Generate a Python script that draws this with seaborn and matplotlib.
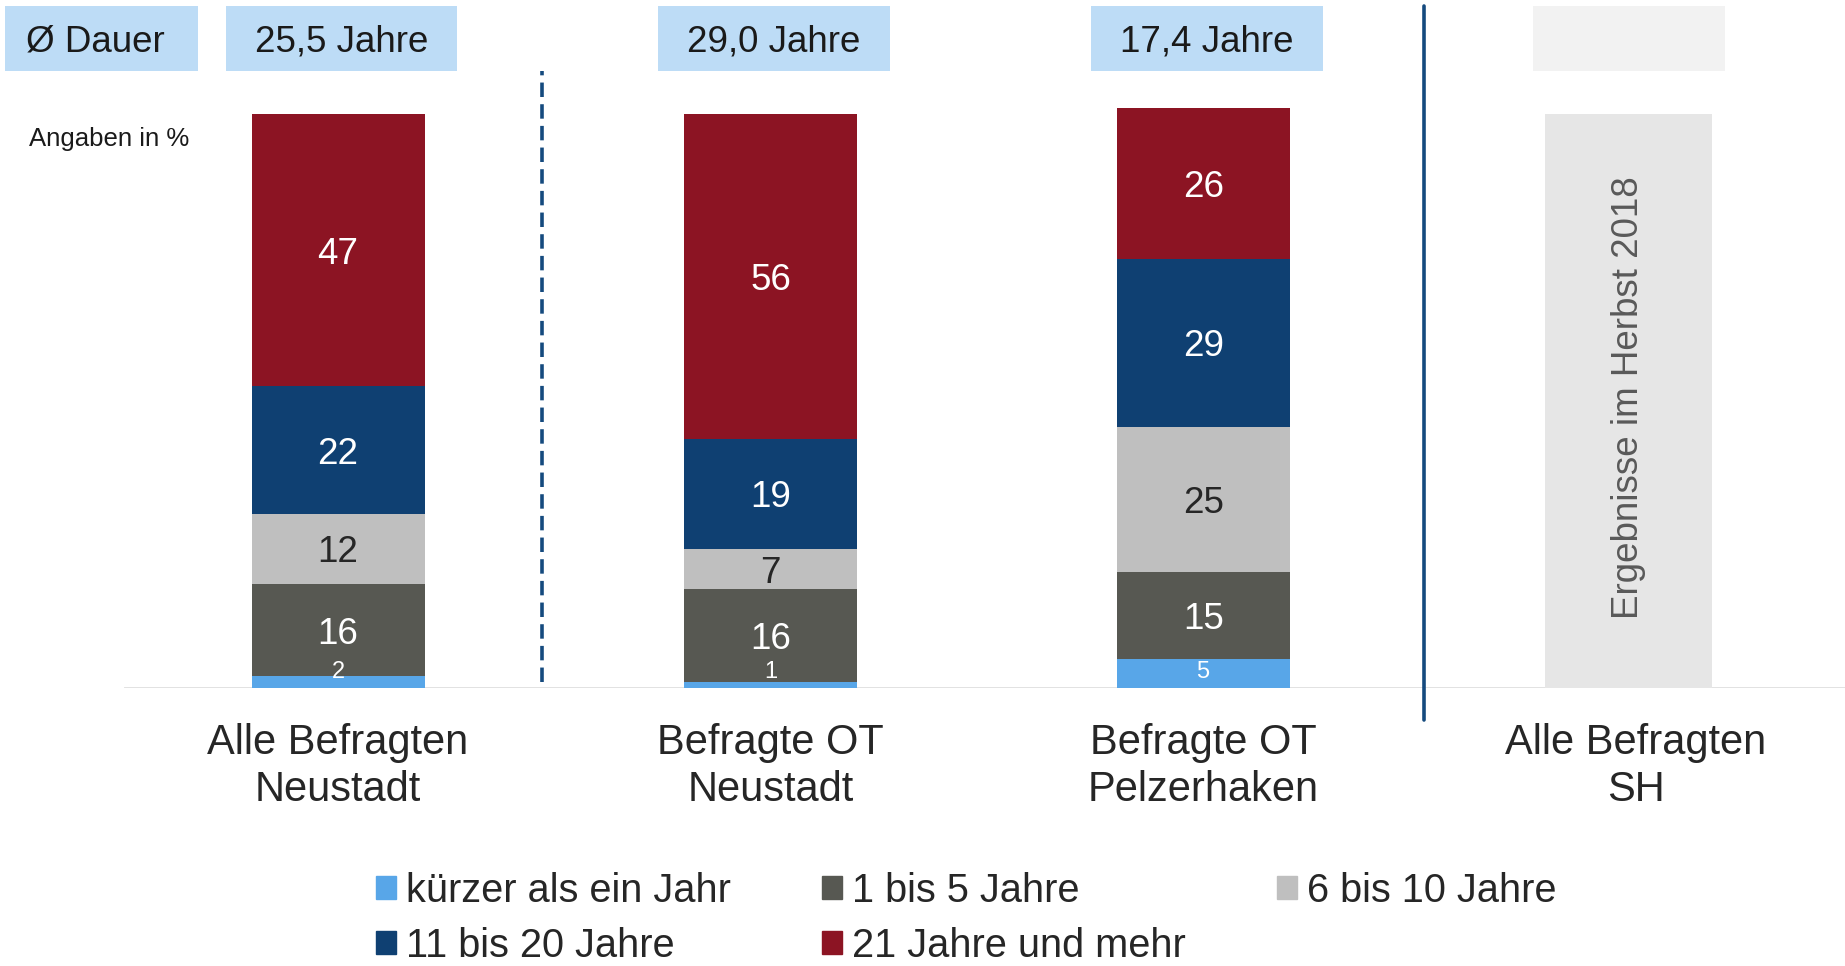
import seaborn as sns
import matplotlib.pyplot as plt
from matplotlib.patches import Rectangle, Patch
import numpy as np

# Daten
categories = ["Alle Befragten\nNeustadt", "Befragte OT\nNeustadt",
              "Befragte OT\nPelzerhaken", "Alle Befragten\nSH"]
series = ["kürzer als ein Jahr", "1 bis 5 Jahre", "6 bis 10 Jahre",
          "11 bis 20 Jahre", "21 Jahre und mehr"]
kuerzer = [2, 1, 5]
jahre_1_5 = [16, 16, 15]
jahre_6_10 = [12, 7, 25]
jahre_11_20 = [22, 19, 29]
jahre_21 = [47, 56, 26]
dauer = ["25,5 Jahre", "29,0 Jahre", "17,4 Jahre"]
placeholder_text = "Ergebnisse im Herbst 2018"

colors = ["#58a6e8", "#575852", "#bfbfbf", "#0f4072", "#8c1423"]
label_colors = ["white", "white", "#262626", "white", "white"]

sns.set_style("white")
plt.rcParams['font.family'] = ['Liberation Sans', 'DejaVu Sans']

fig = plt.figure(figsize=(18.45, 9.66), dpi=100)
ax = fig.add_axes([0.0672, 0.2878, 0.9328, 0.7122])

values = np.array([kuerzer, jahre_1_5, jahre_6_10, jahre_11_20, jahre_21])
cum = values.cumsum(axis=0)

# gestapelte Balken: kumulierte Summen von oben nach unten ueberzeichnen
for i in range(len(series) - 1, -1, -1):
    sns.barplot(x=categories[:3], y=cum[i], order=categories, color=colors[i],
                saturation=1, width=0.4, linewidth=0, ax=ax)

# Platzhalter SH (leicht nach links versetzt wie im Original)
shift = -0.016
n_before = len(ax.patches)
sns.barplot(x=[categories[3]], y=[99], order=categories, color="#e6e6e6",
            saturation=1, width=0.386, linewidth=0, ax=ax)
for p in ax.patches[n_before:]:
    p.set_x(p.get_x() + shift)
ax.text(3 + shift, 50, placeholder_text, rotation=90, ha='center', va='center',
        fontsize=26.5, color='#595959')

# Werte in den Segmenten
for i in range(len(series)):
    for j in range(3):
        v = values[i][j]
        y = cum[i][j] - v / 2 - 0.7
        fs = 26.5
        if v <= 5:
            y = max(cum[i][j] - v / 2 - 0.5, 2.8)
            fs = 17
        ax.text(j, y, str(v), ha='center', va='center', color=label_colors[i], fontsize=fs)

# Kopfzeile mit durchschnittlicher Dauer
ax.add_patch(Rectangle((-0.769, 106.4), 0.444, 11.2, facecolor="#bddcf6",
                       edgecolor='none', clip_on=False))
ax.text(-0.56, 111.4, "Ø Dauer", ha='center', va='center', fontsize=26.5, color='#1a1a1a')
for j, t in enumerate(dauer):
    ax.add_patch(Rectangle((j - 0.26, 106.4), 0.536, 11.2, facecolor="#bddcf6",
                           edgecolor='none', clip_on=False))
    ax.text(j + 0.008, 111.4, t, ha='center', va='center', fontsize=26.5, color='#1a1a1a')
ax.add_patch(Rectangle((3 + shift - 0.222, 106.4), 0.444, 11.2, facecolor="#f2f2f2",
                       edgecolor='none', clip_on=False))

ax.text(-0.714, 94.7, "Angaben in %", ha='left', va='center', fontsize=18.5, color='#1a1a1a')

# Trennlinien
ax.plot([0.472, 0.472], [1, 106.4], color='#154a7e', lw=2.6, dashes=(4, 2), clip_on=False)
ax.plot([2.51, 2.51], [-5.5, 117.6], color='#154a7e', lw=2.6, clip_on=False)

ax.axhline(0, color='#d9d9d9', lw=1.8, zorder=0)
ax.set_xlim(-0.495, 3.484)
ax.set_ylim(0, 118.6)
ax.set_xticks(range(len(categories)))
ax.set_xticklabels(categories, fontsize=30, color='#262626', linespacing=1.22)
ax.tick_params(axis='x', length=0, pad=25)
ax.set_yticks([])
ax.set_xlabel('')
ax.set_ylabel('')
for s in ax.spines.values():
    s.set_visible(False)

# Legende zeilenweise anordnen
handles = [Patch(color=c) for c in colors]
order = [0, 3, 1, 4, 2]
fig.legend([handles[k] for k in order], [series[k] for k in order], ncol=3,
           loc='center left', bbox_to_anchor=(0.193, 0.0495), frameon=False,
           fontsize=28.6, handlelength=0.5, handleheight=0.5, handletextpad=0.25,
           columnspacing=2.3, labelspacing=0.42, borderpad=0)

plt.savefig('out.png', dpi=100)
